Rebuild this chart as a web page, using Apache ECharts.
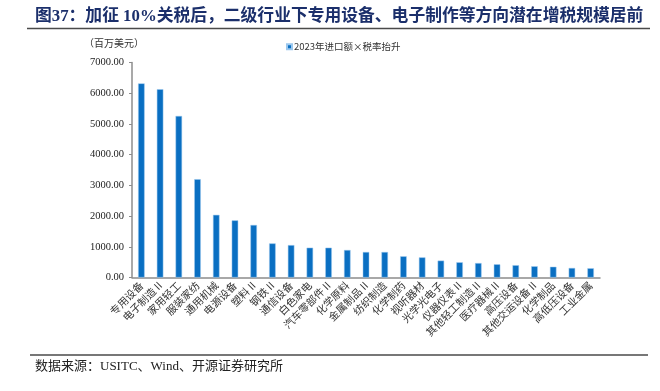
<!DOCTYPE html>
<html>
<head>
<meta charset="utf-8">
<script src="https://cdn.jsdelivr.net/npm/echarts@6/dist/echarts.min.js"></script>
<style>
  html, body { margin: 0; padding: 0; background: #fff; }
  #chart { width: 660px; height: 391px; }
</style>
</head>
<body>
<div id="chart"></div>
<script>
  // 二级行业
  const categories = [
    '专用设备', '电子制造 II', '家用轻工', '服装家纺', '通用机械', '电源设备',
    '塑料 II', '钢铁 II', '通信设备', '白色家电', '汽车零部件 II', '化学原料',
    '金属制品 II', '纺织制造', '化学制药', '视听器材', '光学光电子', '仪器仪表 II',
    '其他轻工制造 II', '医疗器械 II', '高压设备', '其他交运设备 II', '化学制品',
    '高低压设备', '工业金属'
  ];
  // 2023年进口额×税率抬升（百万美元）
  const taxIncrease = [
    6320, 6130, 5260, 3200, 2040, 1860,
    1710, 1110, 1055, 970, 970, 895,
    830, 830, 690, 655, 550, 495,
    470, 430, 400, 365, 350,
    310, 300
  ];
  const yTicks = { min: 0, max: 7000, interval: 1000 };

  const serif = '"Liberation Serif", "Noto Sans CJK SC", serif';
  const cjk = '"Noto Sans CJK SC", sans-serif';

  const chart = echarts.init(document.getElementById('chart'));
  chart.setOption({
    animation: false,
    title: {
      text: '图37：加征 10%关税后，二级行业下专用设备、电子制作等方向潜在增税规模居前',
      left: 30,
      top: 3,
      textStyle: { fontFamily: serif, fontSize: 16.8, fontWeight: 'bold', color: '#1b2f6b' }
    },
    legend: {
      data: ['2023年进口额×税率抬升'],
      left: 281,
      top: 37,
      icon: 'rect',
      itemWidth: 5,
      itemHeight: 5,
      itemGap: 2,
      textStyle: { fontFamily: cjk, fontSize: 9.5, color: '#333', padding: [0, 0, 0, -3] }
    },
    grid: { left: 132, right: 60, top: 62.5, bottom: 113.5 },
    xAxis: {
      type: 'category',
      data: categories,
      axisLine: { lineStyle: { color: '#8c8c8c', width: 1.5 } },
      axisTick: { length: 3, lineStyle: { color: '#8c8c8c' } },
      axisLabel: {
        rotate: 45,
        interval: 0,
        margin: 6,
        fontFamily: cjk,
        fontSize: 10.5,
        color: '#333'
      }
    },
    yAxis: {
      type: 'value',
      min: yTicks.min,
      max: yTicks.max,
      interval: yTicks.interval,
      axisLine: { show: true, lineStyle: { color: '#8c8c8c', width: 1.5 } },
      axisTick: { show: true, length: 3, lineStyle: { color: '#8c8c8c' } },
      splitLine: { show: false },
      axisLabel: {
        formatter: v => v.toFixed(2),
        fontFamily: serif,
        fontSize: 10.5,
        color: '#222',
        margin: 8
      }
    },
    series: [{
      name: '2023年进口额×税率抬升',
      type: 'bar',
      data: taxIncrease,
      barWidth: 6.5,
      itemStyle: { color: '#0a6fc2', borderColor: '#9cc8ee', borderWidth: 0.5 }
    }],
    graphic: [
      { type: 'line', shape: { x1: 27, y1: 28.5, x2: 650, y2: 28.5 }, style: { stroke: '#4a4a4a', lineWidth: 1.5 } },
      { type: 'line', shape: { x1: 30, y1: 355, x2: 648, y2: 355 }, style: { stroke: '#4a4a4a', lineWidth: 1.5 } },
      {
        type: 'text', left: 84, top: 38,
        style: { text: '（百万美元）', font: '10px ' + cjk, fill: '#333' }
      },
      {
        type: 'text', left: 35, top: 360,
        style: { text: '数据来源：USITC、Wind、开源证券研究所', font: '13px ' + serif, fill: '#222' }
      }
    ]
  });
</script>
</body>
</html>
